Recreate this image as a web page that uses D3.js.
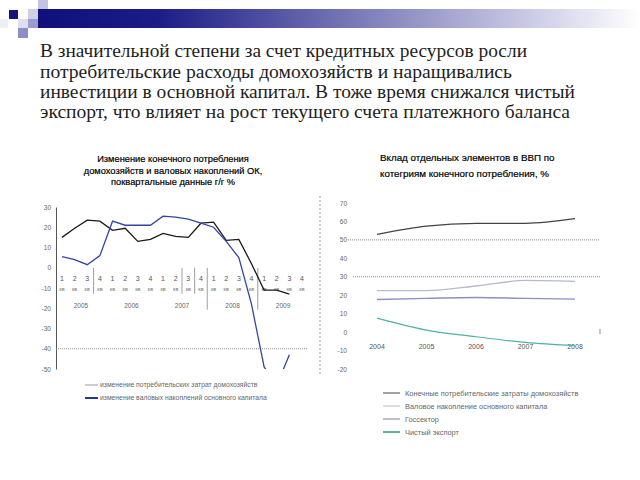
<!DOCTYPE html>
<html><head><meta charset="utf-8">
<script src="https://cdn.jsdelivr.net/npm/d3@7/dist/d3.min.js"></script>
<style>html,body{margin:0;padding:0;background:#fff;}svg{display:block;}</style>
</head><body>
<svg id="c" width="640" height="480"></svg>
<script>
// ---------- data ----------
const bodyLines = [
  "В значительной степени за счет кредитных ресурсов росли",
  "потребительские расходы домохозяйств и наращивались",
  "инвестиции в основной капитал. В тоже время снижался чистый",
  "экспорт, что влияет на рост текущего счета платежного баланса"
];
const leftTitle = ["Изменение конечного потребления",
                   "домохозяйств и валовых накоплений ОК,",
                   "поквартальные данные г/г %"];
const quarterLabels = ["1","2","3","4","1","2","3","4","1","2","3","4","1","2","3","4","1","2","3","4"];
const yearLabels = ["2005","2006","2007","2008","2009"];
const groupBreaks = [2.5, 9.5, 10.5, 11.5, 15.5];
const leftTicks = [30,20,10,0,-10,-20,-30,-40,-50];
const householdGrowth = [15,19.5,23.5,23,18.5,19.5,13,14,17,15.5,15,22,22.5,13.5,14,2,-11,-11,-13,null];
const investmentGrowth = [5.5,4,1.5,6,23,21,21,21,25.5,25,24,22,20,13,5,-18,-49,-58,-43,null];
const leftLegend = ["изменение потребительских затрат домохозяйств",
                    "изменение валовых накоплений основного капитала"];

const rightTitle = ["Вклад отдельных элементов в ВВП по",
                    "котегриям конечного потребления, %"];
const years = ["2004","2005","2006","2007","2008"];
const rightTicks = [70,60,50,40,30,20,10,0,-10,-20];
const householdShare = [53,57.5,59,59,61.5];
const capitalShare = [22.5,22.5,25,28,27.5];
const governmentShare = [17.7,18.3,18.8,18.3,17.9];
const netExportShare = [7.6,1.1,-2.5,-5.6,-7.4];
const rightLegend = ["Конечные потребительские затраты домохозяйств",
                     "Валовое накопление основного капитала",
                     "Госсектор",
                     "Чистый экспорт"];

// ---------- drawing ----------
const svg = d3.select("#c");
const sans = "'Liberation Sans', Arial, sans-serif";
const fmt = d => String(d);

// header decoration
const defs = svg.append("defs");
const g1 = defs.append("linearGradient").attr("id","hdr").attr("x1","0").attr("x2","1");
g1.append("stop").attr("offset","0").attr("stop-color","#10107a");
g1.append("stop").attr("offset","0.2").attr("stop-color","#1c1c86");
g1.append("stop").attr("offset","0.55").attr("stop-color","#8080bb");
g1.append("stop").attr("offset","0.85").attr("stop-color","#d4d4ea");
g1.append("stop").attr("offset","1").attr("stop-color","#ffffff");
svg.append("rect").attr("x",38).attr("y",9).attr("width",602).attr("height",19).attr("fill","url(#hdr)");
const squares = [
  [38,0,10,9,"#c4c4e2"],[9,10,9,9,"#14147e"],[28,9,10,10,"#cfcfe6"],
  [28,19,10,9,"#9c9cd0"],[18,19,10,9,"#dedef0"],[18,28,10,10,"#8e8ec6"],[0,19,8,9,"#eeeef6"]
];
svg.selectAll("rect.sq").data(squares).join("rect").attr("class","sq")
  .attr("x",d=>d[0]).attr("y",d=>d[1]).attr("width",d=>d[2]).attr("height",d=>d[3]).attr("fill",d=>d[4]);

// body text
const bodyEnds = [527,512,575,570];
const bodyBase = [57,77.5,98,118];
svg.selectAll("text.body").data(bodyLines).join("text").attr("class","body")
  .attr("x",40).attr("y",(d,i)=>bodyBase[i])
  .attr("textLength",(d,i)=>bodyEnds[i]-40).attr("lengthAdjust","spacingAndGlyphs")
  .attr("font-family","'Liberation Serif','DejaVu Serif',serif").attr("font-size",18).attr("fill","#1e1e1e")
  .text(d=>d);

// ===== left chart =====
const L = svg.append("g");
L.selectAll("text.lt").data(leftTitle).join("text").attr("class","lt")
  .attr("x",173).attr("y",(d,i)=>162+i*11.5).attr("text-anchor","middle")
  .attr("font-family",sans).attr("font-size",9.3).attr("fill","#000")
  .attr("stroke","#000").attr("stroke-width",0.2).text(d=>d);

const xL = d3.scalePoint().domain(d3.range(quarterLabels.length)).range([62,302]);
const yL = d3.scaleLinear().domain([-50,30]).range([369,207]);
const stepL = xL.step();

// y axis
const axL = d3.axisLeft(yL).tickValues(leftTicks).tickSize(0).tickPadding(5).tickFormat(fmt);
const gAx = L.append("g").attr("transform","translate(56,0)").call(axL);
gAx.select(".domain").attr("stroke","#555");
gAx.selectAll("text").attr("font-family",sans).attr("font-size",6.5).attr("fill","#666");

// dotted line at -40
L.append("line").attr("x1",56).attr("x2",308).attr("y1",yL(-40)).attr("y2",yL(-40))
  .attr("stroke","#999").attr("stroke-dasharray","1,1");

// category labels
L.selectAll("text.q").data(quarterLabels).join("text").attr("class","q")
  .attr("x",(d,i)=>xL(i)).attr("y",yL(0)+13).attr("text-anchor","middle")
  .attr("font-family",sans).attr("font-size",7).attr("fill","#555").text(d=>d);
L.selectAll("text.kv").data(quarterLabels).join("text").attr("class","kv")
  .attr("x",(d,i)=>xL(i)).attr("y",yL(0)+23).attr("text-anchor","middle")
  .attr("font-family",sans).attr("font-size",5.5).attr("fill","#777").text("кв");
L.selectAll("text.yr").data(yearLabels).join("text").attr("class","yr")
  .attr("x",(d,i)=>xL(i*4)+1.5*stepL).attr("y",yL(0)+40).attr("text-anchor","middle")
  .attr("font-family",sans).attr("font-size",6.5).attr("fill","#666").text(d=>d);
L.selectAll("line.br").data(groupBreaks).join("line").attr("class","br")
  .attr("x1",d=>xL(0)+d*stepL).attr("x2",d=>xL(0)+d*stepL)
  .attr("y1",yL(0)).attr("y2",(d,i)=> (d===11.5||d===15.5) ? yL(0)+42 : yL(0)+26)
  .attr("stroke","#888").attr("stroke-width",0.8);

// clip
defs.append("clipPath").attr("id","clipL").append("rect").attr("x",56).attr("y",200).attr("width",260).attr("height",169);
const lineL = d3.line().defined(d=>d!=null).x((d,i)=>xL(i)).y(d=>yL(d));
L.append("path").datum(householdGrowth).attr("d",lineL).attr("clip-path","url(#clipL)")
  .attr("fill","none").attr("stroke","#1a1a1a").attr("stroke-width",1.3);
L.append("path").datum(investmentGrowth).attr("d",lineL).attr("clip-path","url(#clipL)")
  .attr("fill","none").attr("stroke","#3444a6").attr("stroke-width",1.3);

// left legend
const llColors = ["#9a9a9a","#24388c"];
const llW = [1,2];
leftLegend.forEach((t,i)=>{
  const y = 385 + i*13;
  L.append("line").attr("x1",85).attr("x2",98).attr("y1",y).attr("y2",y).attr("stroke",llColors[i]).attr("stroke-width",llW[i]);
  L.append("text").attr("x",100).attr("y",y+2.3).attr("font-family",sans).attr("font-size",6.8).attr("fill","#666").text(t);
});

// ===== right chart =====
const R = svg.append("g");
R.selectAll("text.rt").data(rightTitle).join("text").attr("class","rt")
  .attr("x",380).attr("y",(d,i)=>161+i*16)
  .attr("font-family",sans).attr("font-size",9.8).attr("fill","#000")
  .attr("stroke","#000").attr("stroke-width",0.2).text(d=>d);

const xR = d3.scalePoint().domain(years).range([377,575]);
const yR = d3.scaleLinear().domain([-20,70]).range([369,203]);

R.append("line").attr("x1",320).attr("x2",320).attr("y1",196).attr("y2",376)
  .attr("stroke","#999").attr("stroke-dasharray","2,2");

const axR = d3.axisLeft(yR).tickValues(rightTicks).tickSize(0).tickPadding(0).tickFormat(fmt);
const gR = R.append("g").attr("transform","translate(347,0)").call(axR);
gR.select(".domain").remove();
gR.selectAll("text").attr("font-family",sans).attr("font-size",6.5).attr("fill","#666");

[50,30].forEach(v=>{
  R.append("line").attr("x1",v===50?348:353).attr("x2",600).attr("y1",yR(v)).attr("y2",yR(v))
    .attr("stroke","#888").attr("stroke-dasharray","1,1");
});
R.append("line").attr("x1",600).attr("x2",600).attr("y1",yR(0)-3).attr("y2",yR(0)+2).attr("stroke","#888");

R.selectAll("text.yx").data(years).join("text").attr("class","yx")
  .attr("x",d=>xR(d)).attr("y",yR(0)+17).attr("text-anchor","middle")
  .attr("font-family",sans).attr("font-size",7).attr("fill","#555").text(d=>d);

const rSeries = [
  {v:householdShare, c:"#444444", w:1.2},
  {v:capitalShare, c:"#b4bccb", w:1.3},
  {v:governmentShare, c:"#8a90c4", w:1.4},
  {v:netExportShare, c:"#4db3a4", w:1.2}
];
const lineR = d3.line().x((d,i)=>xR(years[i])).y(d=>yR(d)).curve(d3.curveMonotoneX);
rSeries.forEach(s=>{
  R.append("path").datum(s.v).attr("d",lineR).attr("fill","none").attr("stroke",s.c).attr("stroke-width",s.w);
});

const rlColors = ["#555","#c0c0c8","#8a8a9a","#3a9e8e"];
rightLegend.forEach((t,i)=>{
  const y = 393 + i*13;
  R.append("line").attr("x1",383).attr("x2",400).attr("y1",y).attr("y2",y).attr("stroke",rlColors[i]).attr("stroke-width",i===3?1.6:1.1);
  R.append("text").attr("x",405).attr("y",y+2.5).attr("font-family",sans).attr("font-size",7.4).attr("fill","#666").text(t);
});
</script>
</body></html>
